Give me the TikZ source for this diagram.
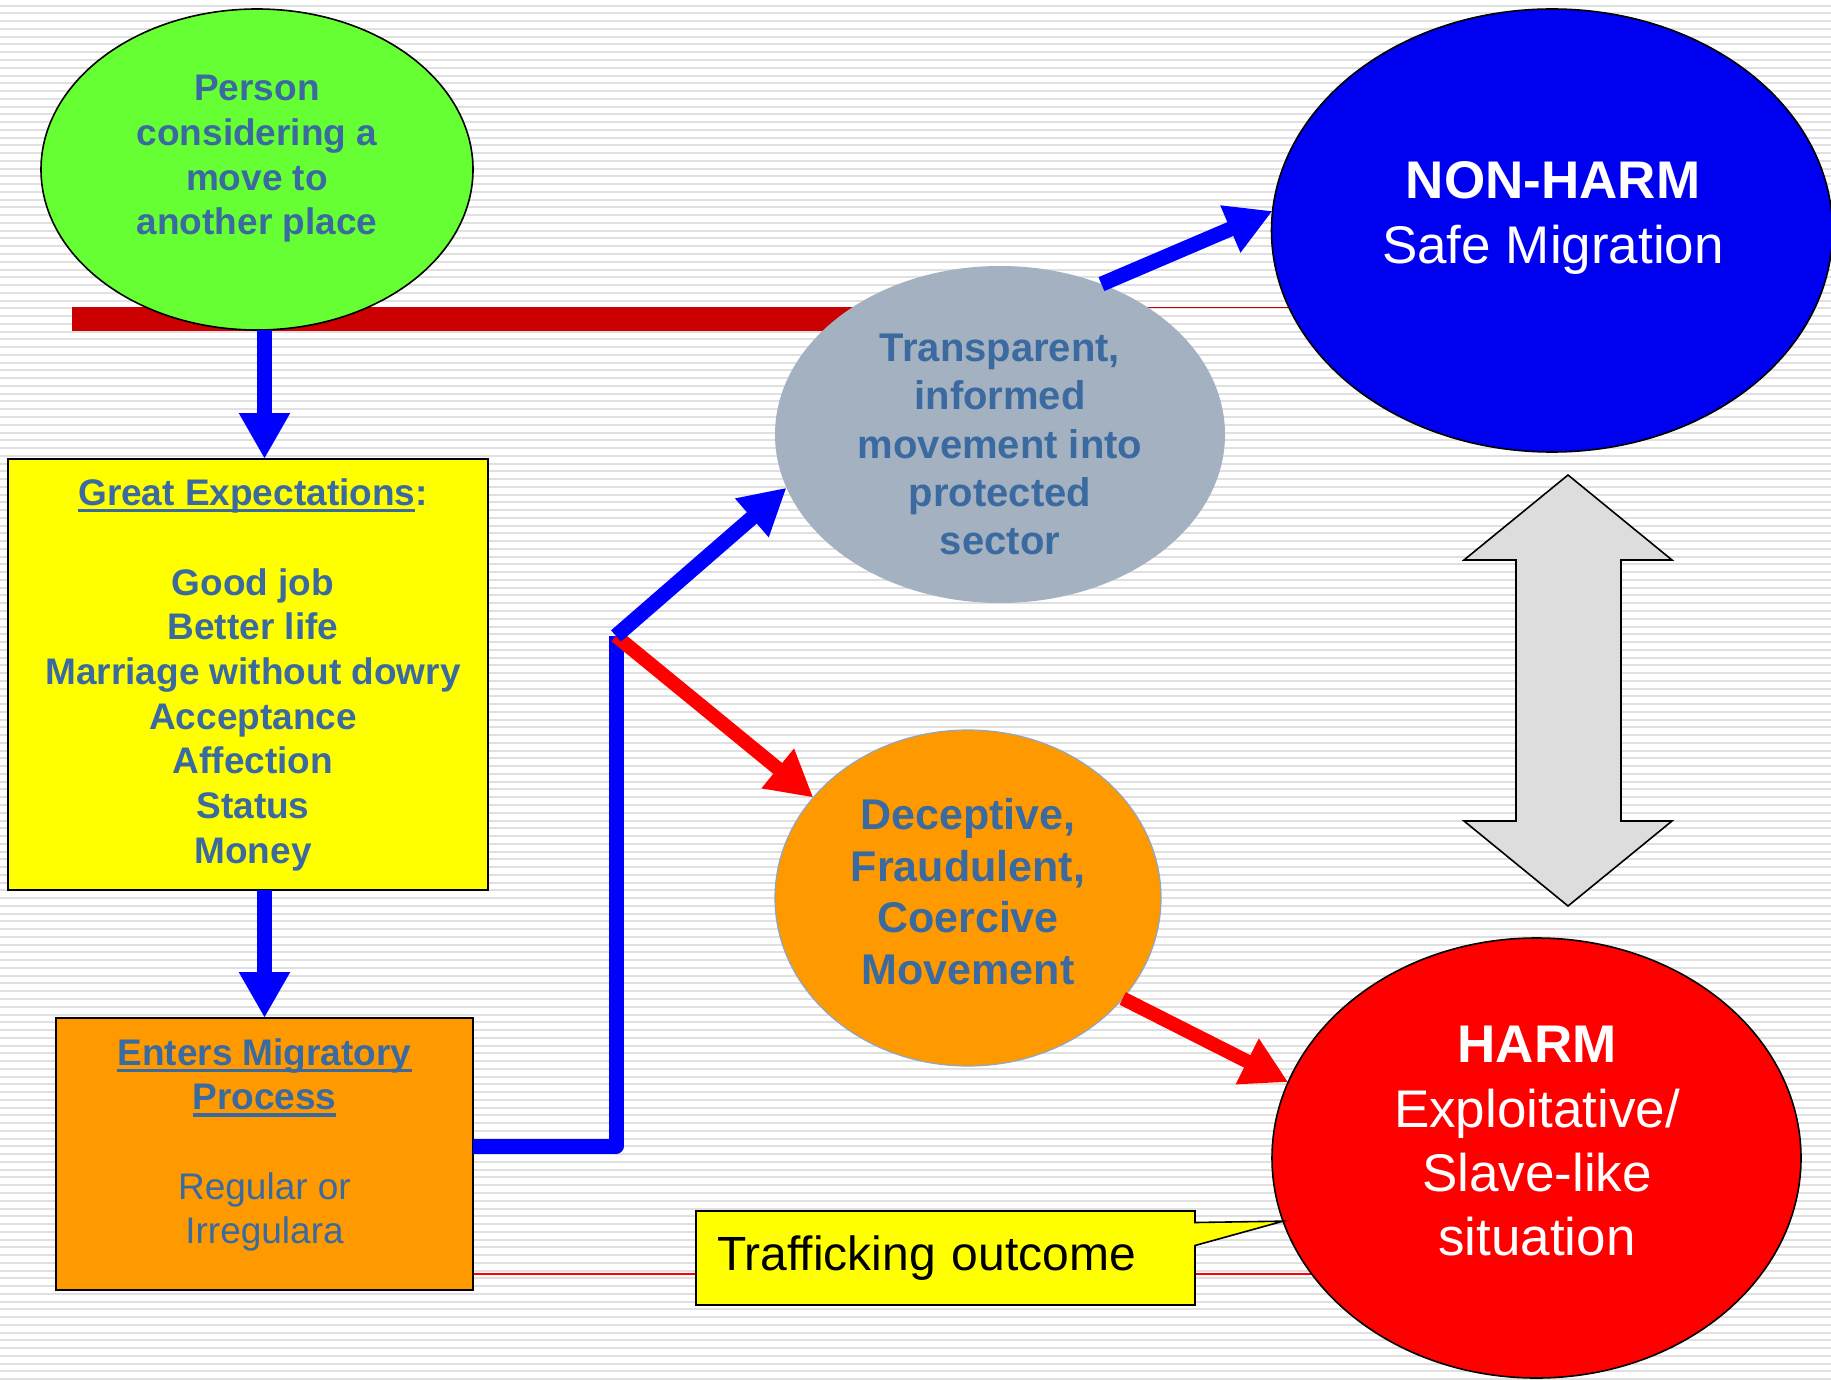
\documentclass[tikz,border=0pt]{standalone}
\usepackage{fontspec}
\setmainfont{Liberation Sans}
\usetikzlibrary{arrows.meta,shapes.geometric,shapes.callouts,calc}
\definecolor{txtblue}{HTML}{3A6A9F}
\definecolor{stripegray}{HTML}{E0E0E0}
\definecolor{barred}{HTML}{CC0000}
\definecolor{greenfill}{HTML}{66FF33}
\definecolor{grayfill}{HTML}{A3B1C0}
\definecolor{blueell}{HTML}{0000F0}
\definecolor{orangefill}{HTML}{FF9900}
\definecolor{redfill}{HTML}{FF0000}
\definecolor{yellowfill}{HTML}{FFFF00}
\definecolor{arrblue}{HTML}{0000FF}
\definecolor{arrred}{HTML}{FF0000}
\definecolor{darrowfill}{HTML}{DDDDDD}
\definecolor{dfcborder}{HTML}{8EA6C2}
\newcommand{\ulx}[1]{\setbox0\hbox{#1}\rlap{\rule[-0.18em]{\wd0}{0.09em}}\box0}
\begin{document}
\begin{tikzpicture}[x=0.5pt,y=-0.5pt,
  stripe/.style={draw=stripegray,line width=1pt},
  txt/.style={text=txtblue,align=center,inner sep=0pt},
  wtxt/.style={text=white,align=center,inner sep=0pt},
  ell/.style={ellipse,inner sep=0pt,outer sep=0pt},
  boxnode/.style={rectangle,inner sep=0pt,outer sep=0pt,draw=black,line width=0.8pt},
  bluearrow/.style={draw=arrblue,line width=7.5pt,-{Triangle[width=24pt,length=23pt]}},
  redarrow/.style={draw=arrred,line width=7pt,-{Triangle[width=24pt,length=23pt]}},
  fsA/.style={font={\fontsize{18.5pt}{22.35pt}\selectfont}},
  fsAb/.style={font={\fontsize{18.5pt}{22.35pt}\selectfont\bfseries}},
  fsB/.style={font={\fontsize{20pt}{24.1pt}\selectfont\bfseries}},
  fsC/.style={font={\fontsize{21.5pt}{25.8pt}\selectfont\bfseries}},
  fsD/.style={font={\fontsize{26.5pt}{32.2pt}\selectfont}},
]
\fill[white] (0,0) rectangle (1831,1380);
\useasboundingbox (0,0) rectangle (1831,1380);
\foreach \k in {0,...,177}{\draw[stripe] (0,{5.7+\k*7.76}) -- (1831,{5.7+\k*7.76});}

% red horizontal bars
\draw[draw=barred,line width=12pt] (72,319) -- (900,319);
\draw[draw=barred,line width=0.8pt] (900,307.5) -- (1300,307.5);
\draw[draw=arrred,line width=0.8pt] (470,1274) -- (1315,1274);

% nodes
\node[ell,fill=greenfill,draw=black,line width=0.8pt,minimum width=216pt,minimum height=160.5pt] (green) at (257,169.5) {};
\node[txt,fsAb] (greentext) at (257,159) {Person\\considering a\\move to\\another place};

\node[boxnode,fill=yellowfill,minimum width=240pt,minimum height=215.5pt] (yellow) at (248,674.5) {};
\node[txt,fsAb] (yellowtext) at (253,675) {\ulx{Great Expectations}:\\[22.35pt]Good job\\Better life\\Marriage without dowry\\Acceptance\\Affection\\Status\\Money};

\node[boxnode,fill=orangefill,line width=1pt,minimum width=208.5pt,minimum height=136pt] (obox) at (264.5,1154) {};
\node[txt,fsA] (oboxtext) at (264.5,1145) {\ulx{\bfseries Enters Migratory}\\\ulx{\bfseries Process}\\[22.35pt]Regular or\\Irregulara};

\node[ell,fill=grayfill,minimum width=225pt,minimum height=168.5pt] (gray) at (1000,434.5) {};
\node[txt,fsB] (graytext) at (1000,444.5) {Transparent,\\informed\\movement into\\protected\\sector};

\node[ell,fill=blueell,draw=black,line width=0.8pt,minimum width=280.5pt,minimum height=221.5pt] (nonharm) at (1552,230.5) {};
\node[wtxt,fsD] (nonharmtext) at (1553,218) {{\bfseries NON-HARM}\\Safe Migration};

\node[ell,fill=orangefill,draw=dfcborder,line width=0.6pt,minimum width=193pt,minimum height=168pt] (dfc) at (968,898) {};
\node[txt,fsC] (dfctext) at (968,891.5) {Deceptive,\\Fraudulent,\\Coercive\\Movement};

\node[ell,fill=redfill,draw=black,line width=0.8pt,minimum width=264.5pt,minimum height=220pt] (harm) at (1536.5,1158) {};
\node[wtxt,fsD] (harmtext) at (1537,1141.4) {{\bfseries HARM}\\Exploitative/\\Slave-like\\situation};

\node[rectangle callout,draw=black,line width=0.8pt,fill=yellowfill,
  callout absolute pointer={(harm.194)},callout pointer width=11.5pt,
  minimum width=249.5pt,minimum height=47pt,text width=228.5pt,inner xsep=10.5pt,inner ysep=0pt,
  align=left,font={\fontsize{24pt}{28.8pt}\selectfont}] (callout) at (945.5,1258) {Trafficking outcome};

% double arrow
\draw[fill=darrowfill,draw=black,line width=0.8pt,line join=miter]
  (1568,475) -- (1672,560) -- (1621,560) -- (1621,821) -- (1672,821) -- (1568,906)
  -- (1464,821) -- (1516,821) -- (1516,560) -- (1464,560) -- cycle;

% connectors
\coordinate (turn) at (616,1146);
\coordinate (split) at (616,636);
\draw[bluearrow] (green.south -| obox.north) -- (yellow.north -| obox.north);
\draw[bluearrow] (yellow.south -| obox.north) -- (obox.north);
\draw[draw=arrblue,line width=7.5pt,line join=round] (obox.east |- turn) -- (turn) -- (split);
\draw[redarrow] (split) -- (dfc.147);
\draw[bluearrow] (split) -- (gray.194);
\draw[bluearrow] (gray.56) -- (nonharm.176);
\draw[redarrow] (dfc.327) -- (harm.163);
\end{tikzpicture}
\end{document}
